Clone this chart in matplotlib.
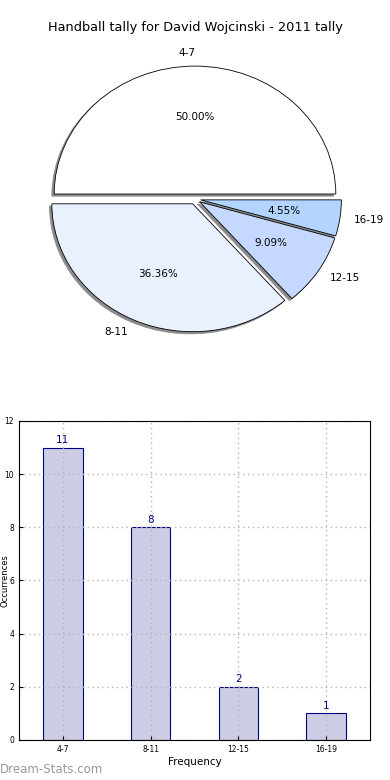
import matplotlib
matplotlib.use("Agg")
import matplotlib.pyplot as plt

# data
categories = ["4-7", "8-11", "12-15", "16-19"]
counts = [11, 8, 2, 1]
pie_colors = ["#ffffff", "#eaf1fe", "#c5d8ff", "#b3d4ff"]
explode = [0.04, 0.04, 0.04, 0.04]
title = "Handball tally for David Wojcinski - 2011 tally"

fig = plt.figure(figsize=(3.9, 7.8), dpi=100)

# pie chart (not equal aspect, like the old matplotlib output)
ax1 = fig.add_axes([0.0487, 0.5397, 0.9026, 0.410])
wedges, texts, autotexts = ax1.pie(
    counts, labels=categories, colors=pie_colors, explode=explode,
    autopct="%1.2f%%", startangle=0,
    shadow={"ox": -0.012, "oy": -0.012, "facecolor": "#8c8c8c",
            "edgecolor": "#8c8c8c", "alpha": 1.0},
    wedgeprops={"edgecolor": "black", "linewidth": 0.6},
    textprops={"fontsize": 7.5},
)
ax1.set_aspect("auto")
ax1.set_xlim(-1.25, 1.25)
ax1.set_ylim(-1.25, 1.25)
ax1.set_title(title, fontsize=9.3, pad=6)

# bar chart
ax2 = fig.add_axes([0.0487, 0.0513, 0.9, 0.409])
x = list(range(len(categories)))
bars = ax2.bar(x, counts, width=0.45, color="#ccccE5", edgecolor="#000080", linewidth=0.8, zorder=2)
for xi, c in zip(x, counts):
    ax2.text(xi, c + 0.1, str(c), ha="center", va="bottom", color="#000080", fontsize=7.5)
ax2.set_xlim(-0.5, 3.5)
ax2.set_ylim(0, 12)
ax2.set_xticks(x)
ax2.set_xticklabels(categories, fontsize=5.5)
ax2.set_yticks(range(0, 13, 2))
ax2.tick_params(axis="y", labelsize=5.5, direction="in", length=3)
ax2.tick_params(axis="x", direction="in", length=3)
ax2.grid(True, linestyle=(0, (1, 2.5)), color="#b4b4b4", linewidth=1.0, zorder=3)
ax2.set_axisbelow(False)
for sp in ax2.spines.values():
    sp.set_zorder(5)
ax2.set_xlabel("Frequency", fontsize=7.5, labelpad=2)
ax2.set_ylabel("Occurrences", fontsize=6)
ax2.yaxis.set_label_coords(-0.027, 0.5)

fig.text(0.0, 0.005, "Dream-Stats.com", fontsize=8.5, color="#999999", ha="left", va="bottom")

fig.savefig("out.png", dpi=100)
